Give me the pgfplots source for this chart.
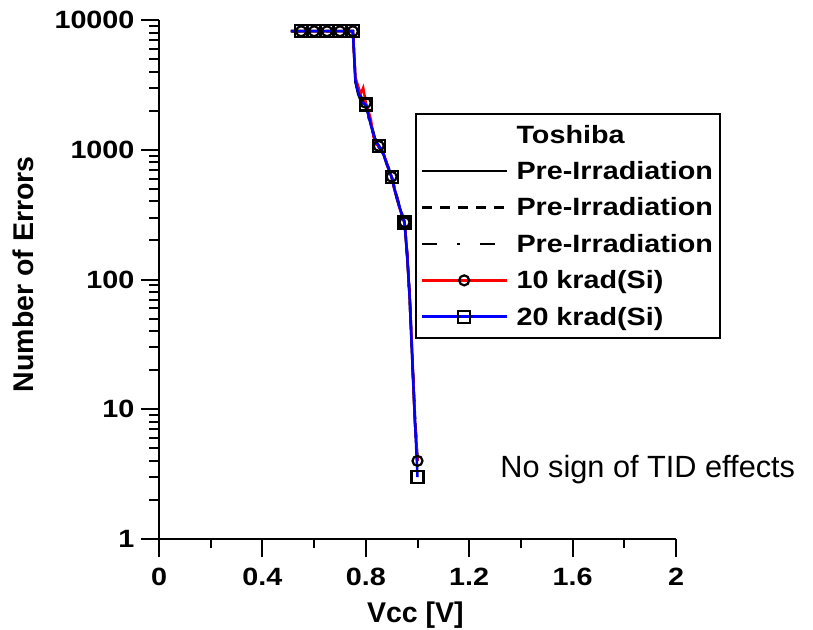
\documentclass[border=0pt]{standalone}
\usepackage{pgfplots}
\pgfplotsset{compat=1.18}
\usepackage{pgfplotstable}
\usepackage{fontspec}
\setmainfont{Liberation Sans}
\newfontfamily\widefont{Liberation Sans}[FakeStretch=1.15]

\pgfplotstableread{
x pa pb pc r b
0.51 8192 8192 8192 8192 8192
0.52 8192 8192 8192 8192 8192
0.53 8192 8192 8192 8192 8192
0.54 8192 8192 8192 8192 8192
0.55 8192 8192 8192 8192 8192
0.56 8192 8192 8192 8192 8192
0.57 8192 8192 8192 8192 8192
0.58 8192 8192 8192 8192 8192
0.59 8192 8192 8192 8192 8192
0.60 8192 8192 8192 8192 8192
0.61 8192 8192 8192 8192 8192
0.62 8192 8192 8192 8192 8192
0.63 8192 8192 8192 8192 8192
0.64 8192 8192 8192 8192 8192
0.65 8192 8192 8192 8192 8192
0.66 8192 8192 8192 8192 8192
0.67 8192 8192 8192 8192 8192
0.68 8192 8192 8192 8192 8192
0.69 8192 8192 8192 8192 8192
0.70 8192 8192 8192 8192 8192
0.71 8192 8192 8192 8192 8192
0.72 8192 8192 8192 8192 8192
0.73 8192 8192 8192 8192 8192
0.74 8192 8192 8192 8192 8192
0.75 8192 8192 8192 8192 8192
0.76 3300 3500 3400 3600 3400
0.77 2800 2900 2700 3100 2800
0.78 2500 2600 2400 2700 2500
0.79 2300 2400 2350 3000 2300
0.80 2200 2250 2150 2300 2230
0.81 1850 1900 1800 2000 1860
0.82 1550 1600 1500 1700 1550
0.83 1300 1350 1280 1250 1300
0.84 1150 1120 1180 1100 1150
0.85 1060 1080 1050 1070 1070
0.86 990 1010 980 1000 1000
0.87 900 930 910 920 915
0.88 780 800 790 800 790
0.89 690 710 700 690 700
0.90 610 625 615 620 617
0.91 500 520 510 505 510
0.92 420 440 430 435 430
0.93 360 370 365 360 365
0.94 310 320 315 318 316
0.95 270 280 272 276 275
0.96 150 160 155 158 155
0.97 70 74 68 72 71
0.98 23 25 24 26 24
0.99 8 9 8.5 8 8.4
1.00 4 4 4 4 3
}\data

\begin{document}
\begin{tikzpicture}
\path[use as bounding box] (0,0) rectangle (813pt,629pt);
\begin{axis}[
  at={(159pt,90pt)}, anchor=south west,
  scale only axis, width=517pt, height=519pt,
  ymode=log, xmin=0, xmax=2, ymin=1, ymax=10000,
  axis lines*=left,
  axis line style={line width=2.5pt},
  tick align=outside,
  major tick length=18pt, minor tick length=9.5pt,
  every tick/.style={black, line width=2pt},
  xtick={0,0.4,0.8,1.2,1.6,2},
  xticklabels={0,0.4,0.8,1.2,1.6,2},
  minor x tick num=1,
  ytick={1,10,100,1000,10000},
  yticklabels={1,10,100,1000,10000},
  ticklabel style={font=\widefont\bfseries\fontsize{25}{28}\selectfont},
  xticklabel style={yshift=-8pt},
  yticklabel style={xshift=-3pt},
  xlabel={Vcc [V]},
  ylabel={Number of Errors},
  xlabel style={font=\bfseries\fontsize{28.5}{32}\selectfont, at={(axis description cs:0.496,-0.146)}, anchor=center},
  ylabel style={font=\bfseries\fontsize{28.5}{32}\selectfont, at={(axis description cs:-0.2626,0.51)}, anchor=center},
  clip=false,
  legend style={at={(0.495,0.821)}, anchor=north west, draw=black, line width=2pt,
    font=\widefont\bfseries\fontsize{25}{30}\selectfont, row sep=12.8pt, inner xsep=5pt, inner ysep=9pt,
    /tikz/column 1/.style={column sep=6pt}},
  legend cell align=left,
  legend image code/.code={\draw[line width=2.6pt, mark repeat=2,mark phase=2] plot coordinates {(0pt,0pt) (42pt,0pt) (85pt,0pt)};},
]
\addlegendimage{empty legend}
\addlegendentry{Toshiba}
\addplot[black, line width=2.5pt] table[x=x, y=pa] {\data};
\addlegendentry{Pre-Irradiation}
\addplot[black, line width=2.5pt, dash pattern=on 10pt off 8pt] table[x=x, y=pb] {\data};
\addlegendentry{Pre-Irradiation}
\addplot[black, line width=2.5pt, dash pattern=on 15pt off 20pt on 3pt off 20pt] table[x=x, y=pc] {\data};
\addlegendentry{Pre-Irradiation}
\addplot[red, line width=2.5pt, mark=o, mark size=5pt, mark repeat=5, mark phase=5,
  mark options={black, solid, line width=2.2pt}] table[x=x, y=r] {\data};
\addlegendentry{10 krad(Si)}
\addplot[blue, line width=2.5pt, mark=square, mark size=6pt, mark repeat=5, mark phase=5,
  mark options={black, solid, line width=2.2pt}] table[x=x, y=b] {\data};
\addlegendentry{20 krad(Si)}
\node[anchor=base west, inner sep=0pt, font=\fontsize{30.7}{36}\selectfont] at (axis cs:1.32,3.0) {No sign of TID effects};
\end{axis}
\end{tikzpicture}
\end{document}
